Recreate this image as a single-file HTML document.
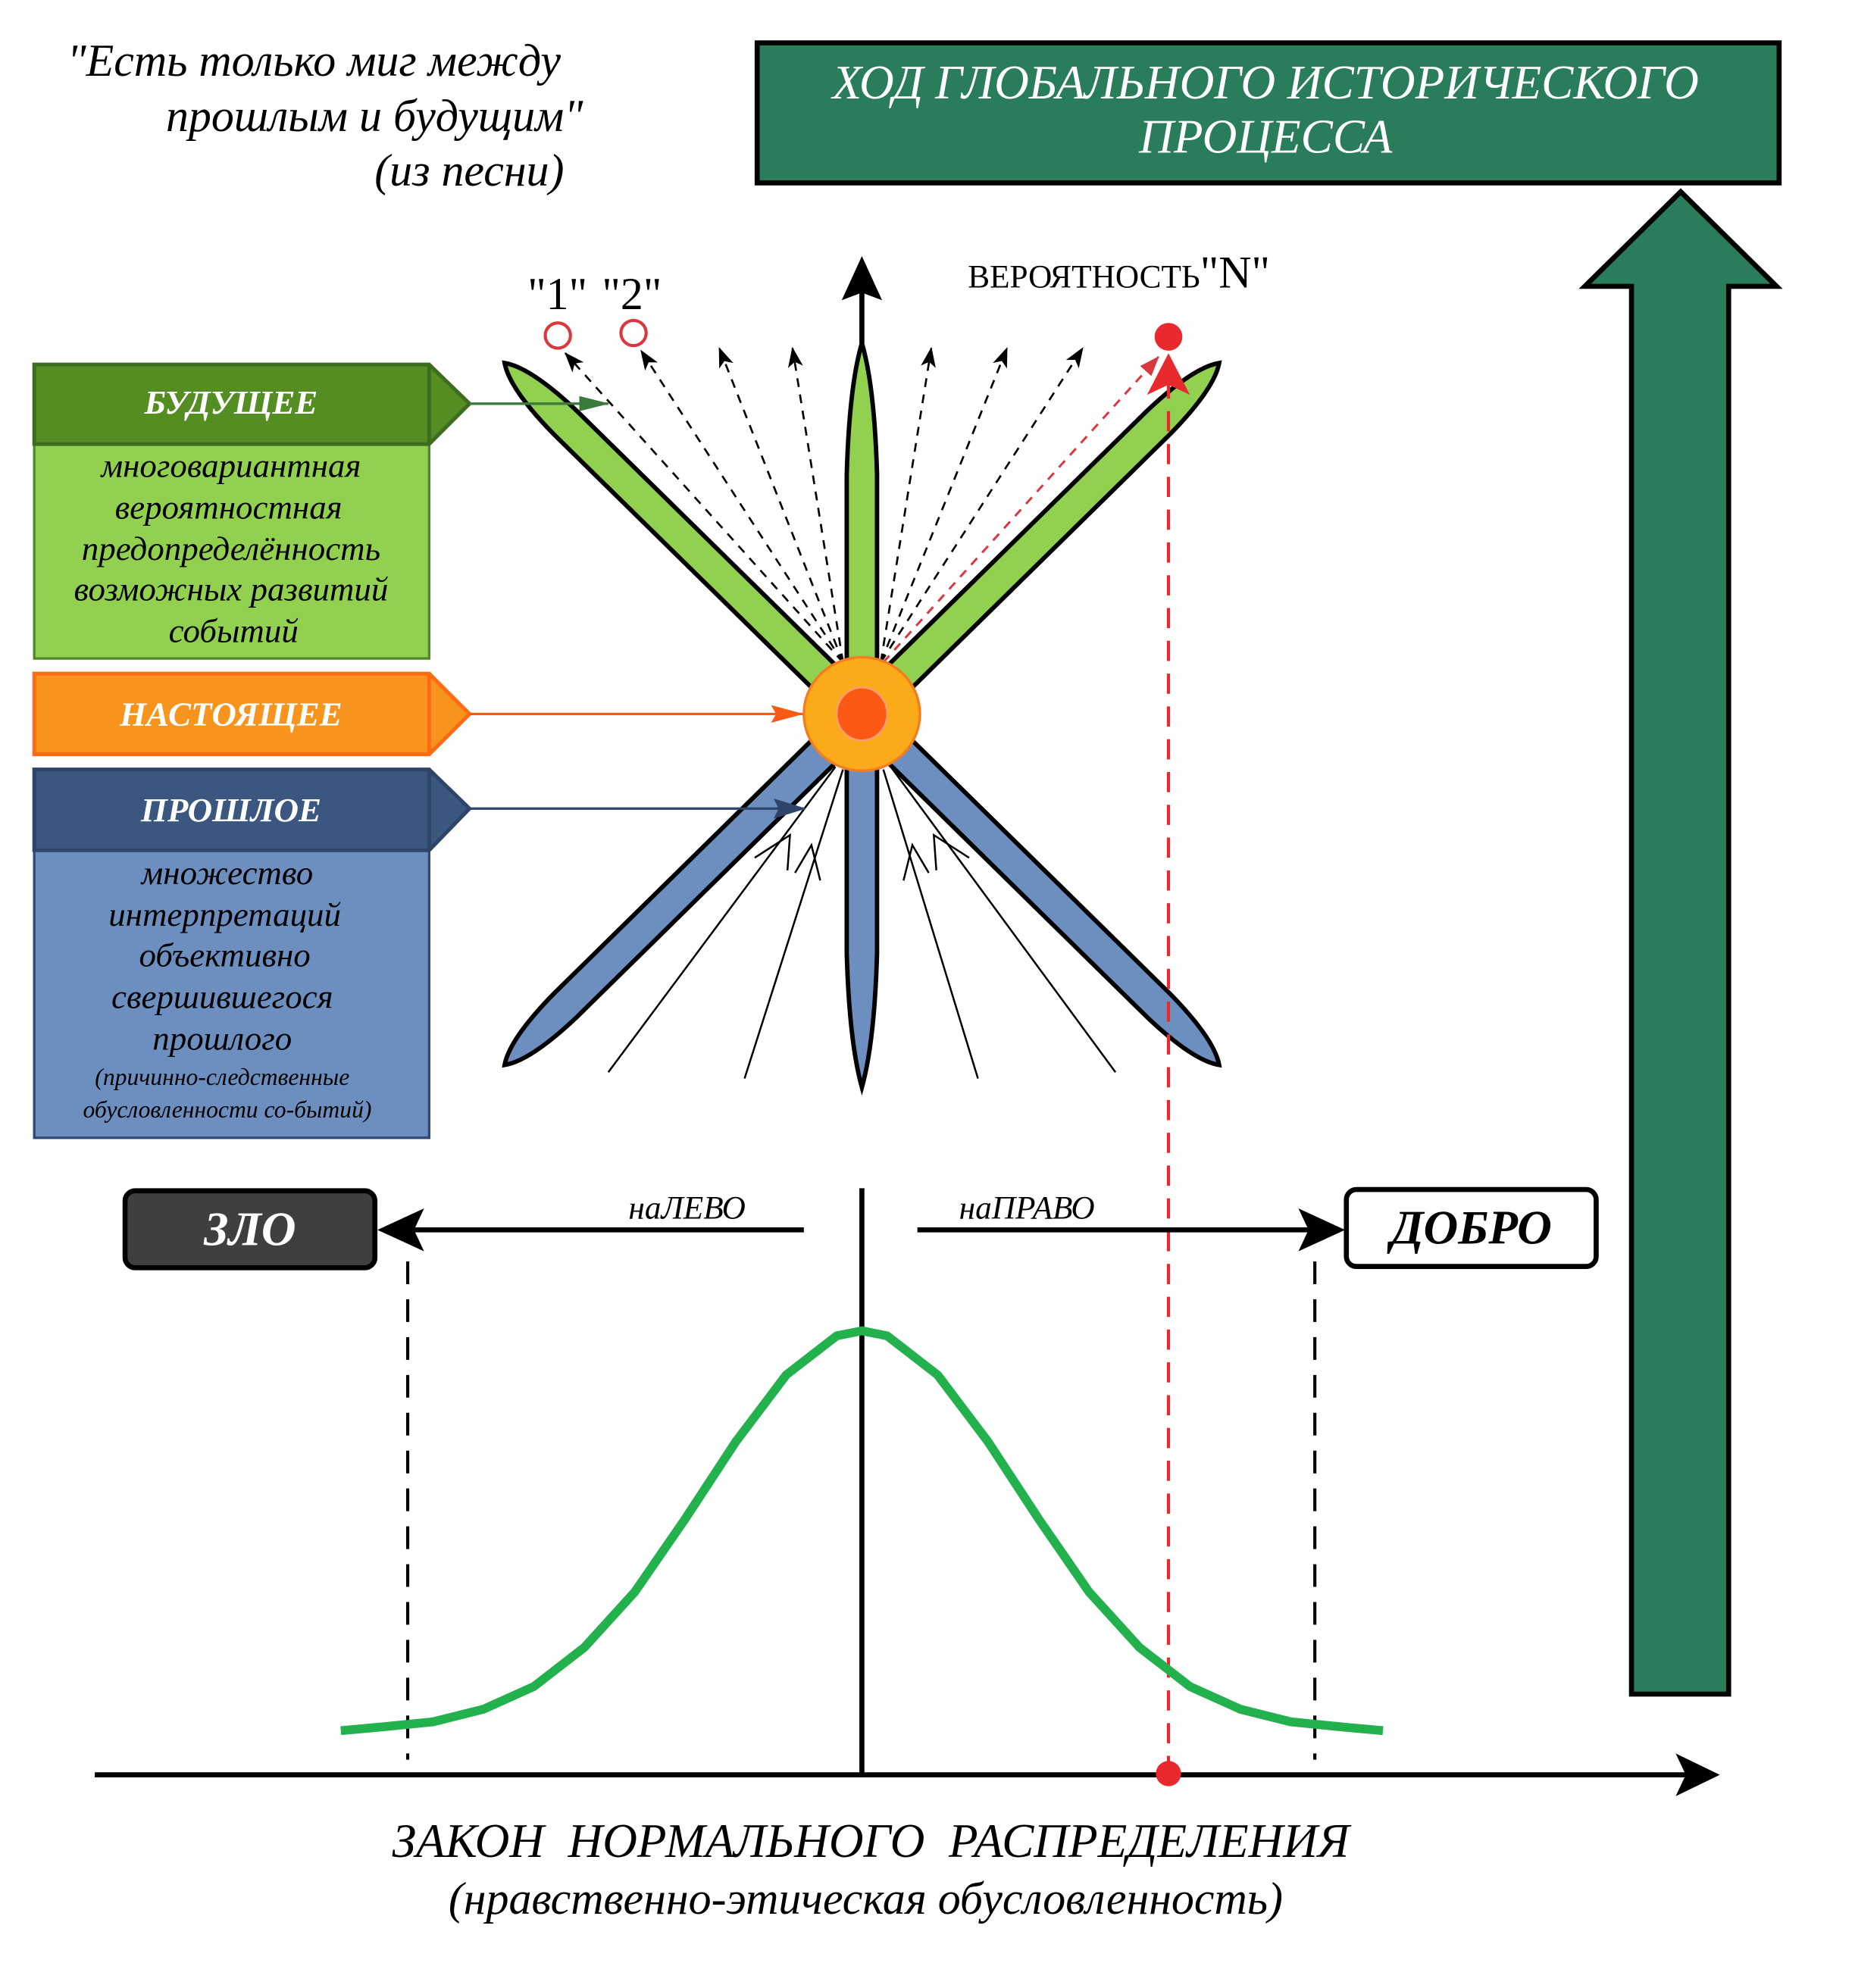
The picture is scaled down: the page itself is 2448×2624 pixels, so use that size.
<!DOCTYPE html>
<html><head><meta charset="utf-8"><style>
html,body{margin:0;padding:0;background:#fff;}
svg{display:block;}
text{font-family:"Liberation Serif","DejaVu Serif",serif;}
</style></head><body>
<svg width="2448" height="2624" viewBox="0 0 1470 1576" xmlns="http://www.w3.org/2000/svg">
<defs>
<marker id="ab" markerWidth="16" markerHeight="12" refX="15" refY="6" orient="auto" markerUnits="userSpaceOnUse" viewBox="0 0 16 12"><path d="M0,0 L16,6 L0,12 L4,6 Z" fill="#000"/></marker>
<marker id="abr" markerWidth="16" markerHeight="12" refX="15" refY="6" orient="auto" markerUnits="userSpaceOnUse" viewBox="0 0 16 12"><path d="M0,0 L16,6 L0,12 Z" fill="#d9393e"/></marker>
<marker id="ag" markerWidth="24" markerHeight="16" refX="23" refY="8" orient="auto" markerUnits="userSpaceOnUse"><path d="M0,2 L24,8 L0,14 Z" fill="#3a7a3a"/></marker>
<marker id="ao" markerWidth="26" markerHeight="16" refX="25" refY="8" orient="auto" markerUnits="userSpaceOnUse"><path d="M0,1 L26,8 L0,15 L4,8 Z" fill="#fc5a14"/></marker>
<marker id="abl" markerWidth="26" markerHeight="18" refX="25" refY="9" orient="auto" markerUnits="userSpaceOnUse"><path d="M0,1 L26,9 L0,17 L4,9 Z" fill="#2e4468"/></marker>
</defs>

<!-- quote -->
<g font-style="italic" font-size="36" fill="#000">
<text x="53" y="60">"Есть только миг между</text>
<text x="462" y="104" text-anchor="end">прошлым и будущим"</text>
<text x="447" y="147" text-anchor="end">(из песни)</text>
</g>

<!-- title -->
<rect x="600" y="34" width="810" height="111" fill="#2a7d5a" stroke="#000" stroke-width="4"/>
<g font-style="italic" font-size="38" fill="#fff" text-anchor="middle">
<text x="1003" y="78">ХОД ГЛОБАЛЬНОГО ИСТОРИЧЕСКОГО</text>
<text x="1003" y="121">ПРОЦЕССА</text>
</g>
<!-- big arrow -->
<path d="M1293,1343 L1293,227 L1256,227 L1332,152 L1408,227 L1370,227 L1370,1343 Z" fill="#2a7d5a" stroke="#000" stroke-width="4"/>

<!-- petals -->
<g stroke="#000" stroke-width="3.5">
<path transform="translate(683,566) rotate(-135.5)" d="M20,-13 L330,-13 Q380,-12 397,0 Q380,12 330,13 L20,13 Z" fill="#92d050"/>
<path transform="translate(683,566) rotate(-44.5)" d="M20,-13 L330,-13 Q380,-12 397,0 Q380,12 330,13 L20,13 Z" fill="#92d050"/>
<path transform="translate(683,566) rotate(-90)" d="M20,-12 L190,-12 Q260,-10 294,0 Q260,10 190,12 L20,12 Z" fill="#92d050"/>
<path transform="translate(683,566) rotate(135.5)" d="M20,-13 L330,-13 Q380,-12 397,0 Q380,12 330,13 L20,13 Z" fill="#6c8fbf"/>
<path transform="translate(683,566) rotate(44.5)" d="M20,-13 L330,-13 Q380,-12 397,0 Q380,12 330,13 L20,13 Z" fill="#6c8fbf"/>
<path transform="translate(683,566) rotate(90)" d="M20,-12 L190,-12 Q260,-10 296,0 Q260,10 190,12 L20,12 Z" fill="#6c8fbf"/>
</g>

<!-- vertical up arrow -->
<line x1="683" y1="272" x2="683" y2="225" stroke="#000" stroke-width="4"/>
<path d="M683,203 L699,238 L683,232 L667,238 Z" fill="#000"/>

<!-- dashed future lines -->
<g stroke="#000" stroke-width="1.6" stroke-dasharray="7,6" fill="none">
<line x1="668" y1="525" x2="448" y2="280" marker-end="url(#ab)"/>
<line x1="668" y1="525" x2="508" y2="278" marker-end="url(#ab)"/>
<line x1="668" y1="525" x2="570" y2="276" marker-end="url(#ab)"/>
<line x1="668" y1="525" x2="628" y2="276" marker-end="url(#ab)"/>
<line x1="698" y1="525" x2="738" y2="276" marker-end="url(#ab)"/>
<line x1="698" y1="525" x2="798" y2="276" marker-end="url(#ab)"/>
<line x1="698" y1="525" x2="858" y2="276" marker-end="url(#ab)"/>
</g>
<line x1="700" y1="525" x2="918" y2="283" stroke="#d9393e" stroke-width="1.8" stroke-dasharray="7,6" marker-end="url(#abr)"/>

<!-- circles -->
<circle cx="442" cy="266" r="10" fill="#fff" stroke="#d9393e" stroke-width="2.5"/>
<circle cx="502" cy="264" r="10" fill="#fff" stroke="#d9393e" stroke-width="2.5"/>
<circle cx="926" cy="267" r="11" fill="#e82a2e"/>
<text x="418" y="245" font-size="36">"1"</text>
<text x="477" y="245" font-size="36">"2"</text>
<text x="767" y="228" font-size="26">ВЕРОЯТНОСТЬ<tspan font-size="36">"N"</tspan></text>

<!-- red dashed vertical -->
<line x1="926" y1="300" x2="926" y2="1405" stroke="#e82a2e" stroke-width="2.5" stroke-dasharray="16,10"/>
<path d="M926,280 L943,313 L926,305 L909,313 Z" fill="#e82a2e"/>

<!-- past lines -->
<g stroke="#000" stroke-width="1.5" fill="none">
<line x1="482" y1="850" x2="662" y2="608"/>
<line x1="590" y1="855" x2="668" y2="610"/>
<line x1="775" y1="855" x2="700" y2="610"/>
<line x1="884" y1="850" x2="706" y2="608"/>
<path d="M598,680 L626,662 L624,690"/>
<path d="M630,692 L643,670 L650,698"/>
<path d="M736,692 L723,670 L716,698"/>
<path d="M768,680 L740,662 L742,690"/>
</g>

<!-- center circle -->
<ellipse cx="683" cy="566" rx="46" ry="45" fill="#fbab1a" stroke="#f47c20" stroke-width="2"/>
<ellipse cx="683" cy="566" rx="20" ry="21" fill="#fc5a14" stroke="#f9a070" stroke-width="1.5"/>

<!-- left boxes -->
<rect x="27" y="352" width="313" height="170" fill="#92d050" stroke="#4f8a2a" stroke-width="2"/>
<path d="M27,289 L340,289 L372,320 L340,352 L27,352 Z" fill="#548d22" stroke="#3d6e1f" stroke-width="3"/>
<line x1="340" y1="289" x2="340" y2="352" stroke="#3d6e1f" stroke-width="3"/>
<path d="M27,534 L340,534 L372,566 L340,598 L27,598 Z" fill="#f7941d" stroke="#ff6a13" stroke-width="3"/>
<line x1="340" y1="534" x2="340" y2="598" stroke="#ff6a13" stroke-width="3"/>
<rect x="27" y="674" width="313" height="228" fill="#6c8fbf" stroke="#2e4a73" stroke-width="2"/>
<path d="M27,610 L340,610 L372,641 L340,674 L27,674 Z" fill="#3b5780" stroke="#2e4468" stroke-width="3"/>
<line x1="340" y1="610" x2="340" y2="674" stroke="#2e4468" stroke-width="3"/>

<g font-style="italic" font-weight="bold" fill="#fff" text-anchor="middle" font-size="27">
<text x="183" y="328">БУДУЩЕЕ</text>
<text x="183" y="575">НАСТОЯЩЕЕ</text>
<text x="183" y="651">ПРОШЛОЕ</text>
</g>
<g font-style="italic" fill="#000" text-anchor="middle" font-size="27">
<text x="183" y="378">многовариантная</text>
<text x="181" y="411">вероятностная</text>
<text x="183" y="444">предопределённость</text>
<text x="183" y="476">возможных развитий</text>
<text x="185" y="509">событий</text>
<text x="180" y="701">множество</text>
<text x="178" y="734">интерпретаций</text>
<text x="178" y="766">объективно</text>
<text x="176" y="799">свершившегося</text>
<text x="176" y="832">прошлого</text>
<text x="176" y="860" font-size="19">(причинно-следственные</text>
<text x="180" y="886" font-size="19">обусловленности со-бытий)</text>
</g>

<line x1="372" y1="320" x2="482" y2="320" stroke="#3a7a3a" stroke-width="2" marker-end="url(#ag)"/>
<line x1="372" y1="566" x2="636" y2="566" stroke="#fc5a14" stroke-width="2" marker-end="url(#ao)"/>
<line x1="372" y1="641" x2="638" y2="641" stroke="#2e4468" stroke-width="2" marker-end="url(#abl)"/>

<!-- ZLO / DOBRO -->
<rect x="99" y="944" width="198" height="61" rx="8" fill="#3f3f3f" stroke="#000" stroke-width="4"/>
<text x="198" y="987" font-size="38" font-style="italic" font-weight="bold" fill="#fff" text-anchor="middle">ЗЛО</text>
<rect x="1067" y="943" width="198" height="61" rx="8" fill="#fff" stroke="#000" stroke-width="4"/>
<text x="1166" y="986" font-size="38" font-style="italic" font-weight="bold" fill="#000" text-anchor="middle">ДОБРО</text>

<line x1="637" y1="975" x2="320" y2="975" stroke="#000" stroke-width="4"/>
<path d="M299,975 L336,958 L328,975 L336,992 Z" fill="#000"/>
<line x1="727" y1="975" x2="1045" y2="975" stroke="#000" stroke-width="4"/>
<path d="M1066,975 L1029,958 L1037,975 L1029,992 Z" fill="#000"/>
<text x="498" y="966" font-size="26" font-style="italic">наЛЕВО</text>
<text x="760" y="966" font-size="26" font-style="italic">наПРАВО</text>

<line x1="683" y1="942" x2="683" y2="1407" stroke="#000" stroke-width="4"/>
<line x1="323" y1="1000" x2="323" y2="1395" stroke="#000" stroke-width="2.5" stroke-dasharray="18,12"/>
<line x1="1042" y1="1000" x2="1042" y2="1395" stroke="#000" stroke-width="2.5" stroke-dasharray="18,12"/>

<!-- bell curve -->
<polyline fill="none" stroke="#22b14c" stroke-width="7" stroke-linejoin="round"
points="270,1372 303,1369 343,1365 383,1355 423,1337 463,1306 503,1262 543,1204 583,1143 623,1090 663,1059 683,1055 703,1059 743,1090 783,1143 823,1204 863,1262 903,1306 943,1337 983,1355 1023,1365 1063,1369 1096,1372"/>

<!-- x axis -->
<line x1="75" y1="1407" x2="1340" y2="1407" stroke="#000" stroke-width="4"/>
<path d="M1363,1407 L1328,1390 L1336,1407 L1328,1424 Z" fill="#000"/>
<circle cx="926" cy="1406" r="10" fill="#e82a2e"/>

<g font-style="italic" fill="#000" text-anchor="middle">
<text x="690" y="1472" font-size="38" xml:space="preserve">ЗАКОН  НОРМАЛЬНОГО  РАСПРЕДЕЛЕНИЯ</text>
<text x="686" y="1517" font-size="36">(нравственно-этическая обусловленность)</text>
</g>
</svg>
</body></html>
